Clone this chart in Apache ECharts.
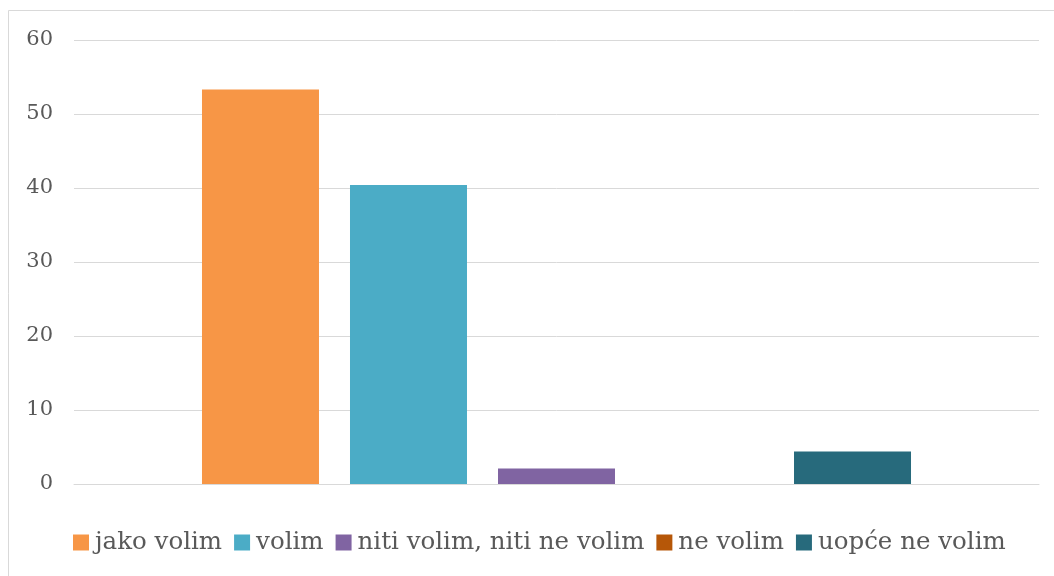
<!DOCTYPE html>
<html><head><meta charset="utf-8">
<script src="https://cdn.jsdelivr.net/npm/echarts@6/dist/echarts.min.js"></script>
<style>html,body{margin:0;padding:0;background:#fff}#c{width:1054px;height:576px}</style>
</head><body><div id="c"></div>
<script>
const categories = [''];
const seriesNames = ['jako volim', 'volim', 'niti volim, niti ne volim', 'ne volim', 'uopće ne volim'];
const seriesValues = [53.3, 40.4, 2.1, 0, 4.4];
const seriesColors = ['#F79646', '#4BACC6', '#8064A2', '#B65708', '#276A7C'];
const yTicks = [0, 10, 20, 30, 40, 50, 60];

const chart = echarts.init(document.getElementById('c'), null, {renderer: 'canvas'});
const font = 'DejaVu Serif';
chart.setOption({
  animation: false,
  backgroundColor: '#fff',
  graphic: [{type: 'rect', shape: {x: 8.5, y: 10.5, width: 1100, height: 700}, style: {fill: 'none', stroke: '#d9d9d9', lineWidth: 1}, silent: true}],
  grid: {left: 74, right: 15, top: 40, bottom: 92, containLabel: false},
  legend: {
    left: 73, top: 530, padding: 0, itemWidth: 16, itemHeight: 16, itemGap: 12,
    icon: 'rect',
    textStyle: {fontFamily: font, fontSize: 24.5, color: '#595959', padding: [2, 0, 0, 1]},
    data: seriesNames
  },
  xAxis: {type: 'category', data: categories, axisLine: {show: true, lineStyle: {color: '#d9d9d9'}}, axisTick: {show: false}, axisLabel: {show: false}},
  yAxis: {
    type: 'value', min: yTicks[0], max: yTicks[yTicks.length - 1], interval: 10,
    axisLine: {show: false}, axisTick: {show: false},
    axisLabel: {fontFamily: font, fontSize: 21, color: '#595959', margin: 21, padding: [2, 0, 0, 0]},
    splitLine: {lineStyle: {color: '#d9d9d9', width: 1}}
  },
  series: seriesNames.map((n, i) => ({
    name: n, type: 'bar', data: [seriesValues[i]],
    barWidth: 117, barGap: '26.5%',
    itemStyle: {color: seriesColors[i]}
  }))
});
</script></body></html>
